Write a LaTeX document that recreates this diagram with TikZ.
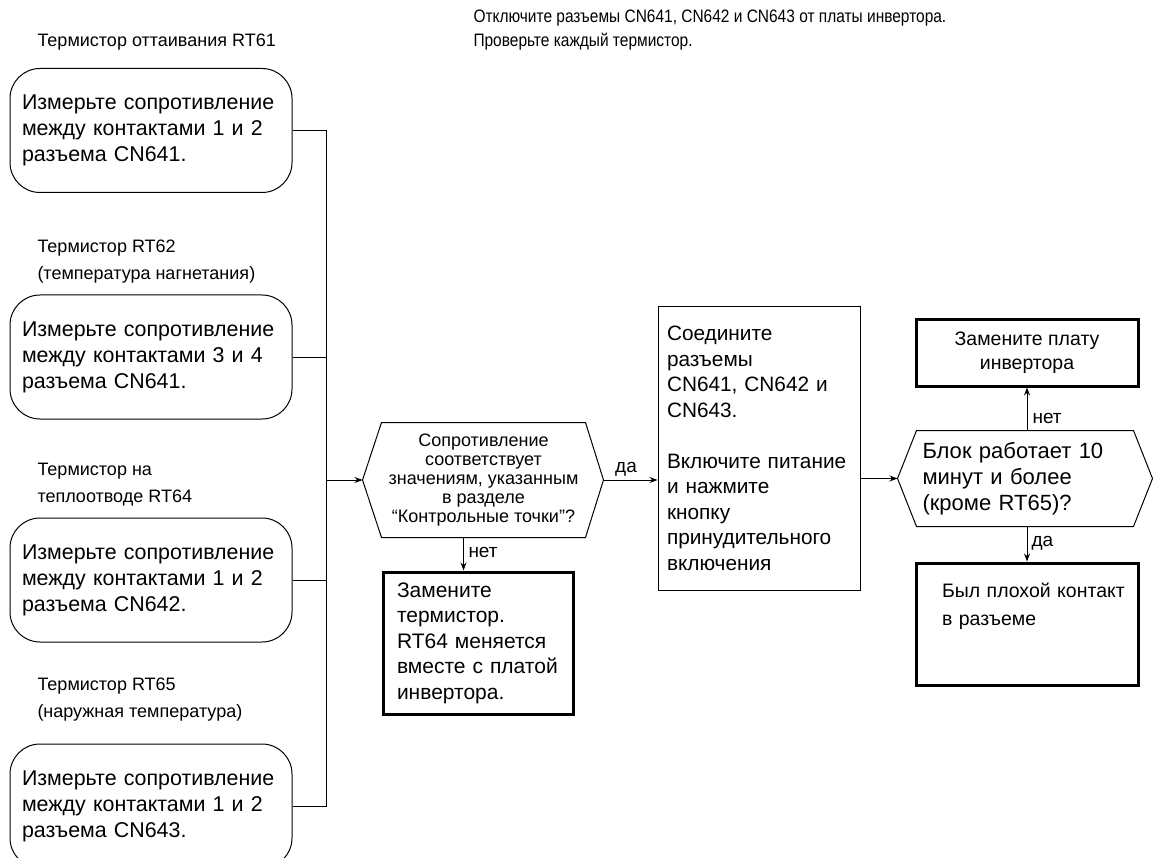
\documentclass[tikz,border=0pt]{standalone}
\usepackage{fontspec}
\setmainfont{Liberation Sans}
\newfontfamily\narrowfont[FakeStretch=0.86]{Liberation Sans}
\usetikzlibrary{arrows.meta}
\tikzset{
	thermo/.style={anchor=west,align=left,inner sep=0pt,font=\fontsize{18}{27}\selectfont},
	measure/.style={draw,rounded corners=30pt,minimum width=282pt,minimum height=124pt,text width=258pt,inner xsep=12pt,align=left,font=\fontsize{21.4}{26}\selectfont},
	plainbox/.style={draw,inner sep=0pt,align=left,font=\fontsize{20.8}{25.5}\selectfont},
	result/.style={draw,line width=3pt,inner sep=0pt,font=\fontsize{21}{25.5}\selectfont},
	question/.style={inner sep=0pt,font=\fontsize{22}{26}\selectfont},
	answer/.style={inner sep=1pt,font=\fontsize{19}{22}\selectfont}
}
\begin{document}
\begin{tikzpicture}[x=1pt,y=-1pt,line width=1pt,>={Stealth[length=8pt,width=6pt]}]
	\useasboundingbox (0,0) rectangle (1153,858);
	\node[anchor=west,align=left,inner sep=0pt,font=\narrowfont\fontsize{18}{24}\selectfont] (intro) at (473,30) {Отключите разъемы CN641, CN642 и CN643 от платы инвертора.\\Проверьте каждый термистор.};
	% thermistors
	\node[thermo] (t1) at (37,42) {Термистор оттаивания RT61};
	\node[thermo] (t2) at (37,262) {Термистор RT62\\(температура нагнетания)};
	\node[thermo] (t3) at (37,485) {Термистор на\\теплоотводе RT64};
	\node[thermo] (t4) at (37,700) {Термистор RT65\\(наружная температура)};
	\node[measure] (m1) at (151,130.5) {Измерьте сопротивление\\между контактами 1 и 2\\разъема CN641.};
	\node[measure] (m2) at (151,357) {Измерьте сопротивление\\между контактами 3 и 4\\разъема CN641.};
	\node[measure] (m3) at (151,580) {Измерьте сопротивление\\между контактами 1 и 2\\разъема CN642.};
	\node[measure] (m4) at (151,806) {Измерьте сопротивление\\между контактами 1 и 2\\разъема CN643.};
	\coordinate (bus) at (326,480);
	\draw (m1.east) -| (bus);
	\draw (m2.east) -| (bus);
	\draw (m3.east) -| (bus);
	\draw (m4.east) -| (bus);
	% first check
	\node[question,minimum width=203pt,minimum height=114pt,align=center,font=\fontsize{18}{19}\selectfont] (check) at (483.5,480) {Сопротивление\\соответствует\\значениям, указанным\\в разделе\\“Контрольные точки”?};
	\coordinate (check-in) at ([xshift=-19pt]check.west);
	\coordinate (check-out) at ([xshift=18pt]check.east);
	\draw (check.north west) -- (check.north east) -- (check-out) -- (check.south east) -- (check.south west) -- (check-in) -- cycle;
	\draw[->] (bus) -- (check-in);
	\node[result,minimum width=190pt,minimum height=142pt,text width=162pt,align=left] (repl) at (478,643) {Замените\\термистор.\\RT64 меняется\\вместе с платой\\инвертора.};
	\draw[->] ([xshift=-20pt]check.south) -- ([xshift=-20pt]check.south |- repl.north);
	\node[answer,anchor=west] (no1) at (467,552) {нет};
	\node[plainbox,minimum width=202pt,minimum height=283pt,text width=184pt] (join) at (759,448.5) {Соедините\\разъемы\\CN641, CN642 и\\CN643.\\[25.5pt]Включите питание\\и нажмите\\кнопку\\принудительного\\включения};
	\draw[->] (check-out) -- (check-out -| join.west);
	\node[answer] (yes1) at (626,469) {да};
	% second check
	\node[question,minimum width=216pt,minimum height=95pt,text width=205pt,align=left] (run) at (1025,478.5) {Блок работает 10\\минут и более\\(кроме RT65)?};
	\coordinate (run-in) at ([xshift=-19pt]run.west);
	\coordinate (run-out) at ([xshift=19pt]run.east);
	\draw (run.north west) -- (run.north east) -- (run-out) -- (run.south east) -- (run.south west) -- (run-in) -- cycle;
	\draw[->] (run-in -| join.east) -- (run-in);
	\node[result,minimum width=222pt,minimum height=66pt,align=center,font=\fontsize{19.5}{24}\selectfont] (board) at (1027,353) {Замените плату\\инвертора};
	\node[result,minimum width=222pt,minimum height=122pt,text width=170pt,align=left,font=\fontsize{19.5}{28}\selectfont] (ok) at (1027,624) {\mbox{Был плохой контакт}\\в разъеме\\[12pt]\mbox{}};
	\draw[->] (run.north -| board.south) -- (board.south);
	\draw[->] (run.south -| ok.north) -- (ok.north);
	\node[answer,anchor=west] (no2) at (1031,418) {нет};
	\node[answer,anchor=west] (yes2) at (1030,543) {да};
\end{tikzpicture}
\end{document}
